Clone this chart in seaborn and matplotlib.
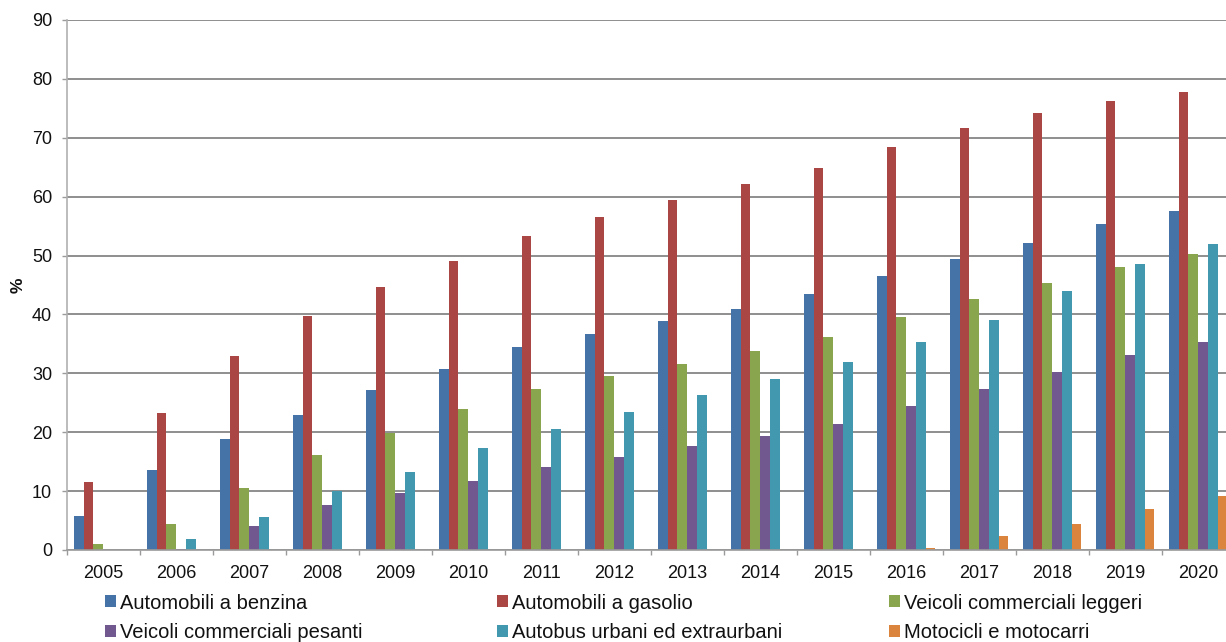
import numpy as np
import pandas as pd
import matplotlib
matplotlib.use("Agg")
import matplotlib.pyplot as plt
from matplotlib.patches import Patch
from matplotlib.ticker import FixedLocator
import seaborn as sns

anni = [str(a) for a in range(2005, 2021)]

benzina = [5.8, 13.6, 18.8, 23.0, 27.1, 30.8, 34.4, 36.6, 38.9, 41.0, 43.4, 46.5, 49.4, 52.1, 55.3, 57.5]
gasolio = [11.5, 23.3, 33.0, 39.7, 44.6, 49.0, 53.4, 56.5, 59.4, 62.2, 64.8, 68.5, 71.6, 74.2, 76.3, 77.7]
comm_leggeri = [1.0, 4.5, 10.6, 16.1, 19.9, 23.9, 27.4, 29.6, 31.6, 33.8, 36.2, 39.6, 42.7, 45.4, 48.1, 50.2]
comm_pesanti = [0.0, 0.2, 4.0, 7.7, 9.6, 11.8, 14.1, 15.8, 17.7, 19.4, 21.4, 24.4, 27.4, 30.3, 33.1, 35.4]
autobus = [0.0, 1.8, 5.6, 10.0, 13.2, 17.4, 20.6, 23.4, 26.3, 29.0, 31.9, 35.3, 39.0, 43.9, 48.6, 52.0]
motocicli = [0.0, 0.0, 0.0, 0.0, 0.0, 0.0, 0.0, 0.0, 0.0, 0.0, 0.0, 0.4, 2.3, 4.5, 7.0, 9.1]

categorie = [
    "Automobili a benzina",
    "Automobili a gasolio",
    "Veicoli commerciali leggeri",
    "Veicoli commerciali pesanti",
    "Autobus urbani ed extraurbani",
    "Motocicli e motocarri",
]
serie = [benzina, gasolio, comm_leggeri, comm_pesanti, autobus, motocicli]
colori = ["#4572A7", "#AA4643", "#89A54E", "#71588F", "#4198AF", "#DB843D"]

df = pd.DataFrame(
    [(a, c, v) for c, vals in zip(categorie, serie) for a, v in zip(anni, vals)],
    columns=["anno", "categoria", "valore"],
)

sns.set_theme(style="white")
plt.rcParams["font.family"] = ["Liberation Sans", "DejaVu Sans"]

fig = plt.figure(figsize=(12.26, 6.42), dpi=100)
ax = fig.add_axes([66.7 / 1226, 92 / 642, 1168 / 1226, 530 / 642])

sns.barplot(
    data=df, x="anno", y="valore", hue="categoria",
    hue_order=categorie, palette=colori, saturation=1,
    errorbar=None, width=0.8, legend=False, ax=ax, linewidth=0,
)

ax.set_xlim(-0.5, len(anni) - 0.5)
ax.set_ylim(0, 90)
ax.set_yticks(np.arange(0, 91, 10))
ax.yaxis.grid(True, color="#868686", lw=1.3)
ax.xaxis.grid(False)
ax.set_axisbelow(True)

for s in ["top", "right"]:
    ax.spines[s].set_visible(False)
ax.spines["left"].set_color("#b0b0b0")
ax.spines["bottom"].set_color("#9a9a9a")
ax.spines["left"].set_linewidth(1.2)
ax.spines["bottom"].set_linewidth(1.2)

ax.set_xlabel("")
ax.set_ylabel("")
ax.tick_params(axis="y", which="major", left=True, length=3.6, width=1.0,
               color="#9a9a9a", labelsize=13, pad=7, labelcolor="#111111")
ax.tick_params(axis="x", which="major", bottom=True, length=0, labelsize=13,
               pad=10.5, labelcolor="#111111")
ax.xaxis.set_minor_locator(FixedLocator(np.arange(-0.5, len(anni), 1.0)))
ax.tick_params(axis="x", which="minor", bottom=True, length=3.6, width=1.0,
               color="#9a9a9a")

fig.text(18 / 1226, 1 - 285 / 642, "%", rotation=90, fontsize=12.5,
         fontweight="bold", ha="center", va="center", color="#111111")

# three legend columns, two entries each
colonne = [(0, 3), (1, 4), (2, 5)]
x_col = [105 / 1226, 496.7 / 1226, 889.3 / 1226]
for (i, j), x0 in zip(colonne, x_col):
    handles = [Patch(facecolor=colori[k], edgecolor="none") for k in (i, j)]
    leg = fig.legend(
        handles, [categorie[i], categorie[j]],
        loc="upper left", bbox_to_anchor=(x0, 0.0755),
        frameon=False, borderpad=0, borderaxespad=0,
        handlelength=0.55, handleheight=0.55, handletextpad=0.2,
        labelspacing=0.54, fontsize=14.5,
    )
    for t in leg.get_texts():
        t.set_color("#111111")

fig.savefig("out.png", dpi=100)
